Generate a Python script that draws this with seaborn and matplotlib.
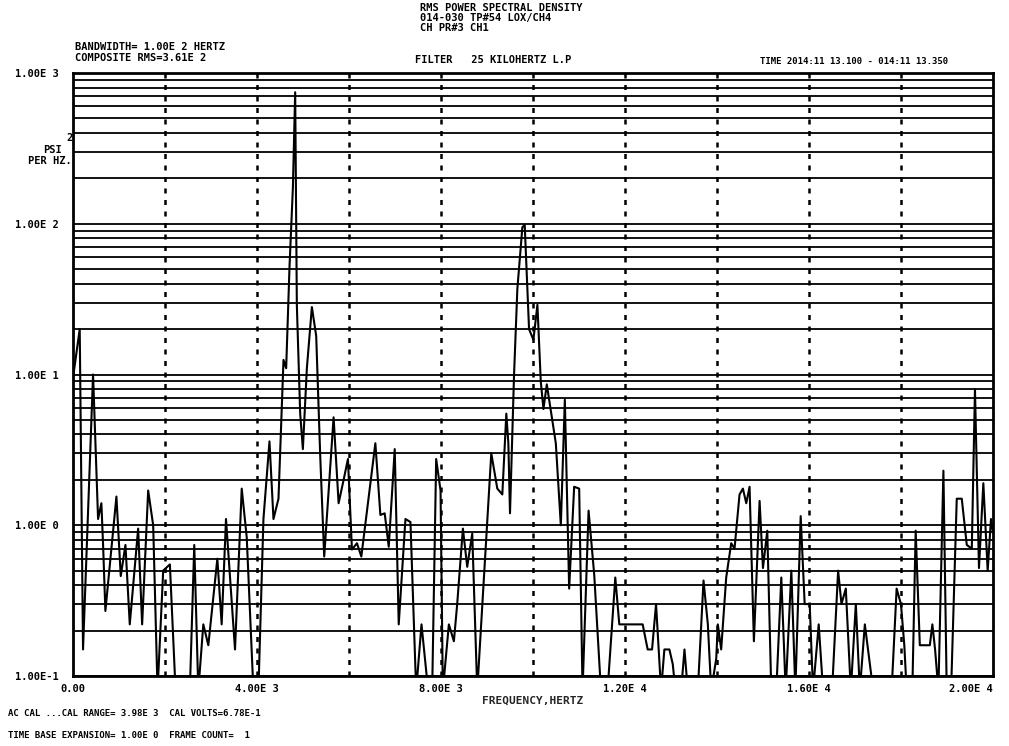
import numpy as np
import pandas as pd
import matplotlib
matplotlib.use("Agg")
import matplotlib.pyplot as plt
import seaborn as sns
from matplotlib.ticker import LogLocator, FixedLocator, FixedFormatter, MultipleLocator, NullFormatter

# ---- data (frequency in Hz, PSD in psi^2/Hz) ----
freq_a = [0, 146, 218, 436, 545, 617, 654, 704, 944, 1038, 1140, 1234, 1416, 1503, 1634, 1743, 1838, 1961, 2106, 2230, 2540, 2636, 2724, 2833]
psd_a = [9.5, 20, 0.15, 10, 1.1, 1.4, 0.74, 0.27, 1.55, 0.46, 0.74, 0.22, 0.95, 0.22, 1.7, 1.0, 0.08, 0.5, 0.55, 0.08, 0.08, 0.74, 0.08, 0.22]

freq_b = [2942, 3138, 3232, 3326, 3522, 3668, 3777, 3922, 4031, 4140, 4271, 4358, 4467, 4576, 4634, 4707, 4780, 4830, 4866, 4939, 4997, 5084, 5193, 5287, 5374, 5461, 5665, 5774, 5883]
psd_b = [0.16, 0.6, 0.22, 1.1, 0.15, 1.75, 0.83, 0.08, 0.08, 1.1, 3.6, 1.1, 1.5, 12.5, 11, 52, 173, 745, 29, 5.5, 3.2, 11, 28, 18, 2.9, 0.62, 5.2, 1.4, 2.0]

freq_c = [5977, 6064, 6173, 6268, 6573, 6682, 6776, 6864, 6994, 7081, 7227, 7336, 7460, 7576, 7721, 7808, 7895, 7990, 8040, 8171, 8280, 8352, 8476, 8570, 8679, 8788]
psd_c = [2.75, 0.69, 0.76, 0.62, 3.5, 1.17, 1.2, 0.72, 3.2, 0.22, 1.1, 1.05, 0.08, 0.22, 0.08, 0.08, 2.75, 1.7, 0.08, 0.22, 0.17, 0.3, 0.95, 0.53, 0.88, 0.08]

freq_d = [9093, 9224, 9333, 9420, 9464, 9500, 9588, 9660, 9769, 9820, 9914, 10009, 10096, 10169, 10227, 10300, 10496, 10605, 10692, 10786, 10895, 11004, 11077, 11208, 11331, 11477, 11621]
psd_d = [3.0, 1.75, 1.6, 5.5, 3.5, 1.2, 10, 37, 95, 98, 20, 17, 29, 9, 5.9, 8.6, 3.5, 1.0, 6.8, 0.38, 1.8, 1.75, 0.08, 1.25, 0.47, 0.08, 0.08]

freq_e = [11789, 11876, 12384, 12493, 12588, 12675, 12784, 12856, 12965, 13038, 13097, 13220, 13293, 13365, 13583, 13707, 13801, 13874, 13983, 14018, 14091, 14200, 14309, 14381, 14490, 14563, 14636, 14708]
psd_e = [0.45, 0.22, 0.22, 0.15, 0.15, 0.3, 0.08, 0.15, 0.15, 0.12, 0.08, 0.08, 0.15, 0.08, 0.08, 0.43, 0.22, 0.08, 0.13, 0.22, 0.15, 0.45, 0.76, 0.7, 1.6, 1.75, 1.4, 1.8]

freq_f = [14802, 14926, 14999, 15093, 15180, 15289, 15398, 15493, 15616, 15703, 15819, 15906, 16015, 16088, 16211, 16306, 16502, 16633, 16706, 16800, 16909, 17018, 17105, 17214, 17396]
psd_f = [0.17, 1.45, 0.52, 0.92, 0.08, 0.08, 0.45, 0.08, 0.5, 0.08, 1.15, 0.3, 0.3, 0.08, 0.22, 0.08, 0.08, 0.5, 0.3, 0.38, 0.08, 0.3, 0.08, 0.22, 0.08]

freq_g = [17796, 17905, 17999, 18072, 18123, 18246, 18319, 18409, 18627, 18682, 18741, 18813, 18922, 18994, 19089, 19212, 19321, 19430, 19539, 19608, 19695, 19790, 19884, 19956, 20000]
psd_g = [0.08, 0.38, 0.3, 0.16, 0.08, 0.08, 0.92, 0.16, 0.16, 0.22, 0.15, 0.08, 2.3, 0.08, 0.08, 1.5, 1.5, 0.74, 0.7, 8, 0.52, 1.9, 0.5, 1.1, 0.9]

y_ticks = [0.1, 1, 10, 100, 1000]
y_labels = ["1.00E-1", "1.00E 0", "1.00E 1", "1.00E 2", "1.00E 3"]
x_ticks = [0, 4000, 8000, 12000, 16000, 20000]
x_labels = ["0.00", "4.00E 3", "8.00E 3", "1.20E 4", "1.60E 4", "2.00E 4"]
dashed_freqs = [2000, 4000, 6000, 8000, 10000, 12000, 14000, 16000, 18000]

df = pd.DataFrame({
    "freq": freq_a + freq_b + freq_c + freq_d + freq_e + freq_f + freq_g,
    "psd": psd_a + psd_b + psd_c + psd_d + psd_e + psd_f + psd_g,
})

sns.set_theme(style="white")
plt.rcParams["font.family"] = ["DejaVu Sans Mono", "DejaVu Sans"]
plt.rcParams["font.weight"] = "bold"

W, H = 1009, 746
fig = plt.figure(figsize=(W / 100, H / 100), dpi=100)
fig.patch.set_facecolor("white")
ax = fig.add_axes([73 / W, 1 - 676 / H, 920 / W, 603 / H])
ax.set_facecolor("white")

ax.set_yscale("log")
ax.set_ylim(0.1, 1000)
ax.set_xlim(0, 20000)

# log grid (all 1..9 per decade) as solid black lines
ax.yaxis.set_major_locator(FixedLocator(y_ticks))
ax.yaxis.set_major_formatter(FixedFormatter(y_labels))
ax.yaxis.set_minor_locator(LogLocator(base=10, subs=np.arange(2, 10)))
ax.yaxis.set_minor_formatter(NullFormatter())
ax.grid(True, which="both", axis="y", color="black", linewidth=1.3, linestyle="-")
ax.set_axisbelow(True)

# dashed vertical frequency lines
for fx in dashed_freqs:
    ax.axvline(fx, color="black", linewidth=1.8, linestyle=(0, (2.0, 2.6)), zorder=1)

sns.lineplot(data=df, x="freq", y="psd", ax=ax, color="black", linewidth=1.5,
             estimator=None, sort=False, zorder=3)

ax.xaxis.set_major_locator(FixedLocator(x_ticks))
ax.xaxis.set_major_formatter(FixedFormatter(x_labels))
ax.tick_params(axis="both", which="both", length=0, labelsize=7.5, colors="black")
ax.tick_params(axis="x", pad=6)
ax.tick_params(axis="y", pad=10)
for lab in ax.get_xticklabels() + ax.get_yticklabels():
    lab.set_fontweight("bold")
ax.get_xticklabels()[-1].set_horizontalalignment("right")
ax.get_xticklabels()[-1].set_x(20000)

for sp in ax.spines.values():
    sp.set_color("black")
    sp.set_linewidth(2.0)
    sp.set_visible(True)

ax.set_xlabel("FREQUENCY,HERTZ", fontsize=8, fontweight="bold", labelpad=1)
ax.set_ylabel("")

def ftext(x, y, s, size=8, ha="left"):
    fig.text(x / W, 1 - y / H, s, fontsize=size, fontweight="bold", ha=ha, va="center",
             color="black")

ftext(420, 8, "RMS POWER SPECTRAL DENSITY", 7.5)
ftext(420, 18, "014-030 TP#54 LOX/CH4", 7.5)
ftext(420, 28, "CH PR#3 CH1", 7.5)
ftext(75, 47, "BANDWIDTH= 1.00E 2 HERTZ", 7.5)
ftext(75, 58, "COMPOSITE RMS=3.61E 2", 7.5)
ftext(415, 60, "FILTER   25 KILOHERTZ L.P", 7.5)
ftext(760, 61, "TIME 2014:11 13.100 - 014:11 13.350", 6.5)
ftext(66, 138, "2", 7.5)
ftext(53, 150, "PSI", 7.5, ha="center")
ftext(50, 161, "PER HZ.", 7.5, ha="center")
ftext(8, 713, "AC CAL ...CAL RANGE= 3.98E 3  CAL VOLTS=6.78E-1", 6.5)
ftext(8, 736, "TIME BASE EXPANSION= 1.00E 0  FRAME COUNT=  1", 6.5)

fig.savefig("out.png", dpi=100, facecolor="white")
